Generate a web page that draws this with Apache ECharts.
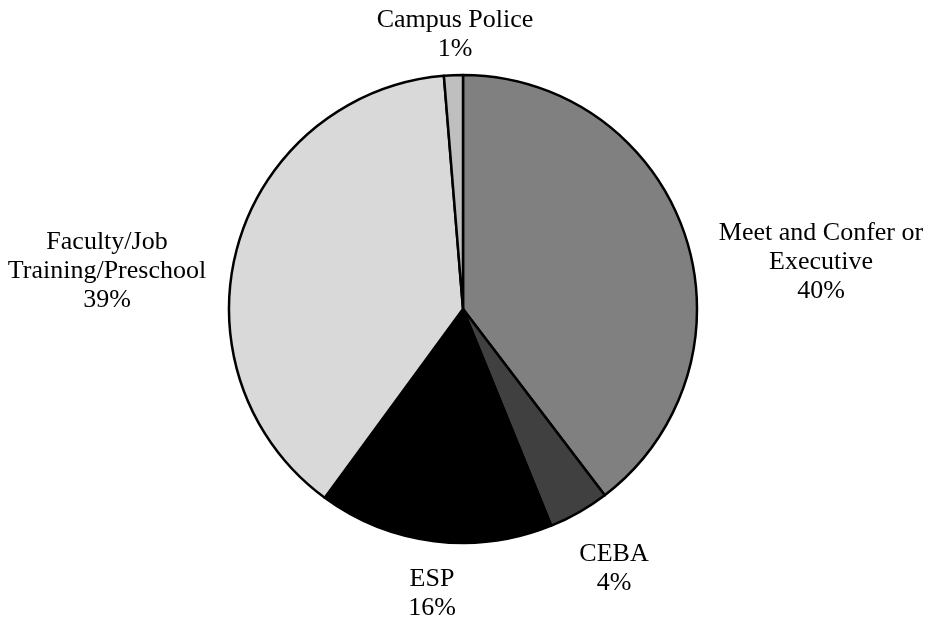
<!DOCTYPE html>
<html lang="en">
<head>
    <meta charset="UTF-8">
    <title>Pie</title>
    <script src="https://cdn.jsdelivr.net/npm/echarts@6.0.0/dist/echarts.min.js"></script>
    <style>
        * { margin: 0; padding: 0; }
        body { background: #fff; }
        #chart-container { width: 927px; height: 623px; }
    </style>
</head>
<body>
<div id="chart-container"></div>
<script>
    // slice data (clockwise from 12 o'clock)
    const categories = ['Meet and Confer or\nExecutive', 'CEBA', 'ESP', 'Faculty/Job\nTraining/Preschool', 'Campus Police'];
    const shares = [39.6, 4.2, 16.2, 38.6, 1.3];
    const sliceColors = ['#808080', '#404040', '#000000', '#d9d9d9', '#bfbfbf'];

    // where each label block is centred (px)
    const labelCenters = [[821, 262], [614, 569], [432, 594], [107, 271], [455, 35]];

    let chartDom = document.getElementById('chart-container');
    let myChart = echarts.init(chartDom);

    let option = {
        animation: false,
        series: [{
            type: 'pie',
            center: [463, 309],
            radius: 234,
            startAngle: 90,
            clockwise: true,
            avoidLabelOverlap: false,
            emphasis: {disabled: true},
            itemStyle: {borderColor: '#000', borderWidth: 2.5},
            label: {
                show: true,
                position: 'outside',
                fontFamily: 'Liberation Serif',
                fontSize: 26,
                lineHeight: 29,
                color: '#000',
                formatter: function (p) {
                    return p.name + '\n' + Math.round(p.percent) + '%';
                }
            },
            labelLine: {show: false},
            labelLayout: function (params) {
                let c = labelCenters[params.dataIndex];
                return {x: c[0], y: c[1], align: 'center', verticalAlign: 'middle'};
            },
            data: categories.map(function (name, i) {
                return {name: name, value: shares[i], itemStyle: {color: sliceColors[i]}};
            })
        }]
    };

    option && myChart.setOption(option);
</script>
</body>
</html>
